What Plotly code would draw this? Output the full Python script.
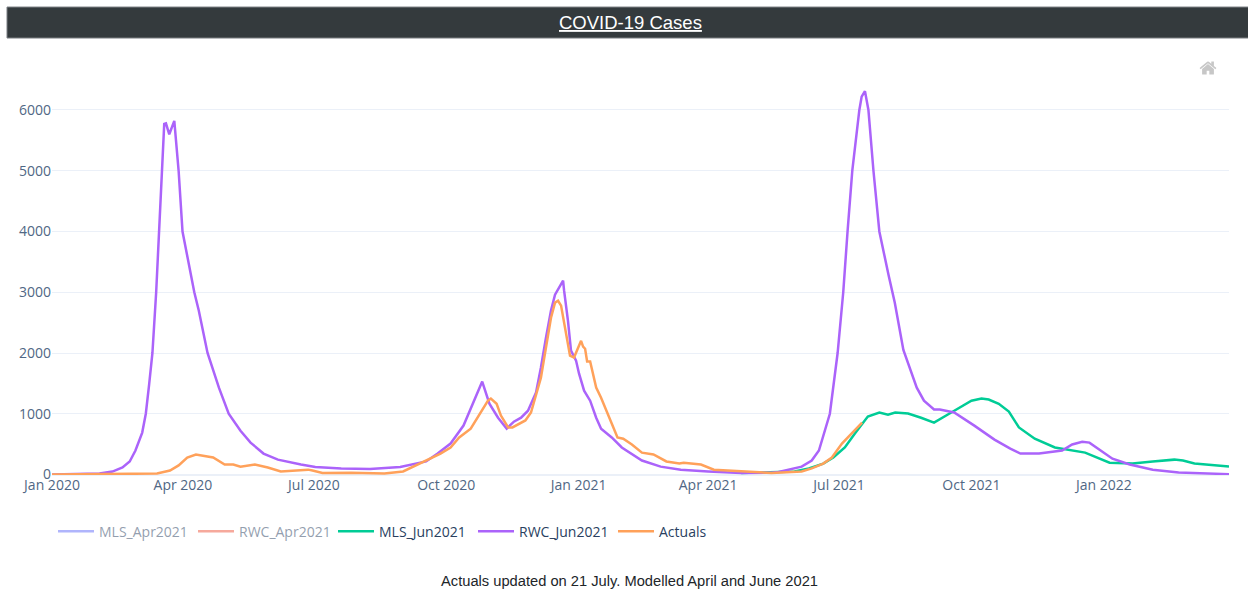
import plotly.graph_objects as go
import pandas as pd

START = pd.Timestamp("2020-01-01")

# Days since START, and values
RWC_JUN_DAYS = [0,33,42,49,54,58,62.7,65.2,67.5,69.8,72.4,74.5,76.6,78,79.2,81.5,85,87,88,90.7,96.1,98.9,102,108.1,116,122.8,131,138,147,157,173,183,201,221,242,260,268,277,286,293,299,304,310,316,321,326,330.8,336.4,339.8,343.3,346.8,349.6,355.2,355.9,358.6,360.7,364.2,366.3,369.8,374,378.2,381.6,389,396,403,410,423,437,456,479,500,505,521,528,533,537.5,540.6,546,549.9,552.9,556.2,561.1,562.7,565,567.4,570.9,575,581.5,585.7,591.7,595.5,601,606,613,617,625,627,641,655,666,673,686,702,709,716,721,737,749,765,783,799,818]
RWC_JUN_VALUES = [0,16,49,115,214,395,690,1000,1480,2000,3000,4000,5000,5770,5780,5600,5820,5210,5000,4000,3300,3000,2700,2000,1430,1000,720,525,345,245,165,125,100,90,125,215,345,510,805,1185,1530,1165,935,755,870,935,1050,1350,1760,2250,2700,2960,3190,3025,2530,2040,1875,1660,1380,1215,935,755,610,445,330,230,130,80,50,25,30,40,130,230,395,755,1000,2000,3000,4000,5000,6000,6220,6310,6000,5000,4000,3270,2830,2050,1800,1430,1215,1070,1070,1035,1020,805,575,425,345,345,395,495,540,525,260,165,80,35,16,5]

MLS_JUN_DAYS = [479,493,516,526,536,543,551,558,563,567,575,581,586,595,604,613,625,639,646,651,658,665,672,683,697,707,718,735,751,765,780,786,794,818]
MLS_JUN_VALUES = [25,35,50,100,180,280,445,675,840,955,1020,985,1020,1005,935,855,1020,1215,1250,1235,1165,1035,775,590,445,410,360,195,180,215,245,230,180,130]

ACTUAL_DAYS = [0,73,82,88,94,100,112,120,126,131,141,150,159,173,178,181,188,208,231,244,256,270,277,283,291,298,303,305,309,312,317,320,325,329,332.9,336.4,339.8,343.3,346.8,349.6,351.7,353.8,355.9,358.6,360,362.8,365.6,367.7,369.1,370.5,371.9,374,378.2,381.6,389,393,397,403,410,418,427,436,439,451,460,479,500,521,528,536,542,549,556,563]
ACTUAL_VALUES = [0,16,65,150,280,330,280,165,165,130,165,115,50,80,80,65,25,30,16,50,180,345,445,610,755,1020,1215,1250,1165,970,775,775,840,890,1020,1330,1595,2090,2580,2830,2860,2780,2500,2200,1955,1925,2070,2200,2105,2070,1860,1860,1430,1265,840,610,590,495,360,330,215,180,195,165,80,50,25,50,100,180,280,510,675,855]

# Hidden in the reference (legend-only): rough placeholders, never drawn
MLS_APR_DAYS = [460,520,580,640,700,760,818]
MLS_APR_VALUES = [60,50,300,500,350,200,100]
RWC_APR_DAYS = [460,520,580,640,700,760,818]
RWC_APR_VALUES = [60,40,600,400,200,80,20]

def dates(days):
    return START + pd.to_timedelta(days, unit="D")

L, R, T, B = 52, 1229, 61, 475.3
W, H = 1248, 589
def px(x): return (x - L) / (R - L)
def py(y): return (B - y) / (B - T)

fig = go.Figure()
fig.add_scatter(x=dates(MLS_APR_DAYS), y=MLS_APR_VALUES, name="MLS_Apr2021", mode="lines", visible="legendonly", line=dict(color="#636efa", width=2.5))
fig.add_scatter(x=dates(RWC_APR_DAYS), y=RWC_APR_VALUES, name="RWC_Apr2021", mode="lines", visible="legendonly", line=dict(color="#EF553B", width=2.5))
fig.add_scatter(x=dates(MLS_JUN_DAYS), y=MLS_JUN_VALUES, name="MLS_Jun2021", mode="lines", line=dict(color="#00cc96", width=2.5))
fig.add_scatter(x=dates(RWC_JUN_DAYS), y=RWC_JUN_VALUES, name="RWC_Jun2021", mode="lines", line=dict(color="#ab63fa", width=2.5))
fig.add_scatter(x=dates(ACTUAL_DAYS), y=ACTUAL_VALUES, name="Actuals", mode="lines", line=dict(color="#FFA15A", width=2.5))

fig.update_layout(
    template="plotly_white", width=W, height=H, autosize=False,
    margin=dict(l=L, r=W - R, t=T, b=H - B, pad=0),
    font=dict(family="Open Sans", size=14, color="#2a3f5f"),
    showlegend=True,
    legend=dict(orientation="h", x=px(53), xanchor="left", y=py(516), yanchor="top", itemwidth=36,
                entrywidth=89, entrywidthmode="pixels", font=dict(size=14, color="#2a3f5f")),
    xaxis=dict(type="date", range=[str(START.date()), "2022-03-29"], dtick="M3", tick0="2020-01-01", tickformat="%b %Y",
               showgrid=False, zeroline=False, showline=False, ticks="", tickfont=dict(size=14, color="#506784")),
    yaxis=dict(range=[-8, 6806], tick0=0, dtick=1000, tickformat="d", gridcolor="#EBF0F8", zerolinecolor="#EBF0F8", zerolinewidth=2,
               ticks="", tickfont=dict(size=14, color="#506784")),
    shapes=[dict(type="rect", xref="paper", yref="paper", x0=px(7), x1=px(1249), y0=py(38), y1=py(7),
                 fillcolor="#343a3d", line=dict(color="#7a7f84", width=1), layer="above")],
    annotations=[
        dict(text="<u>COVID-19 Cases</u>", xref="paper", yref="paper", x=px(630), y=py(22.5), showarrow=False,
             xanchor="center", yanchor="middle", font=dict(family="Liberation Sans", size=18.5, color="#ffffff")),
        dict(text="Actuals updated on 21 July. Modelled April and June 2021", xref="paper", yref="paper", x=px(629.5), y=py(581.5),
             showarrow=False, xanchor="center", yanchor="middle", font=dict(family="Liberation Sans", size=14.7, color="#212529")),
    ],
    modebar=dict(bgcolor="rgba(0,0,0,0)", color="rgba(68,68,68,0.3)", activecolor="rgba(68,68,68,0.7)"),
)

POST = """
document.body.style.margin='0';
var c=document.querySelector('.modebar-container');
if(c){c.style.top='55px';c.style.right='26px';c.style.left='auto';c.style.width='auto';}
document.querySelectorAll('.modebar-btn svg').forEach(function(s){s.style.transform='scale(1.15)';});
"""
fig.write_html("out.html", post_script=POST,
               config=dict(displayModeBar=True, displaylogo=False, modeBarButtons=[["resetScale2d"]]))
